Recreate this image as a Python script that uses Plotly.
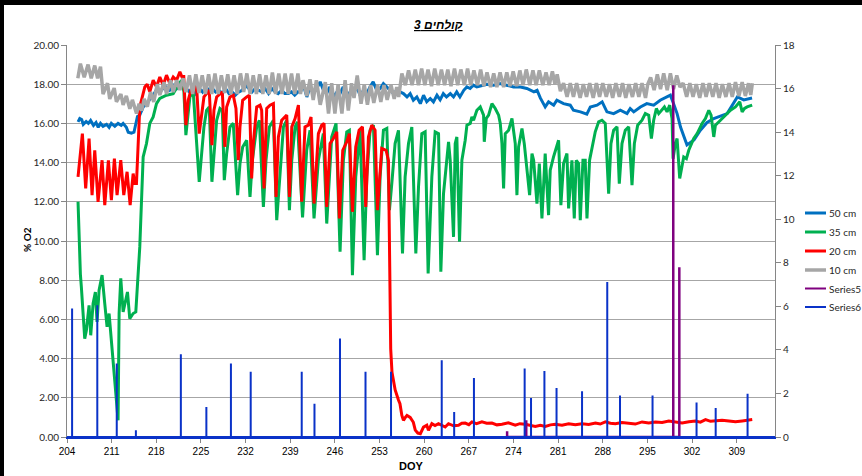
import plotly.graph_objects as go

# ---------------- data ----------------
x_ticks = [204, 211, 218, 225, 232, 239, 246, 253, 260, 267, 274, 281, 288, 295, 302, 309]

d50 = [205.73, 206.0, 206.3, 206.55, 207.0, 207.35, 207.7, 208.15, 208.55, 208.9, 209.25, 209.65, 210.2, 210.6,
       210.95, 211.5, 212.0, 212.5, 212.8, 213.3, 213.6, 214.1, 214.5, 214.8, 215.05, 215.4, 215.95, 216.45,
       216.95, 217.5, 218.0, 218.55, 219.05, 219.6, 220.1, 220.65, 221.2, 221.7, 222.2, 222.7, 223.2, 223.7,
       224.2, 224.75, 225.25, 225.75, 226.3, 226.8, 227.3, 227.8, 228.35, 228.85, 229.4, 229.9, 230.4, 230.9,
       231.45, 231.95, 232.5, 233.0, 233.5, 234.0, 234.55, 235.05, 235.6, 236.1, 236.6, 237.1, 237.65, 238.15,
       238.7, 239.2, 239.7, 240.2, 240.6, 241.05, 241.6, 242.1, 242.6, 243.15, 243.7, 244.2, 244.7, 245.2,
       245.75, 246.3, 246.8, 247.3, 247.85, 248.4, 248.9, 249.4, 249.95, 250.5, 251.0, 251.5, 252.0, 252.55,
       253.1, 253.6, 254.1, 254.65, 255.2, 255.7, 256.2, 256.75, 257.3, 257.8, 258.3, 258.85, 259.4, 259.9,
       260.4, 260.95, 261.45, 262.0, 262.5, 263.0, 263.5, 264.1, 264.6, 265.1, 265.6, 266.2, 266.7, 267.2,
       267.7, 268.25, 268.8, 269.8, 270.9, 271.9, 272.9, 274.0, 275.1, 276.1, 277.2, 277.7, 278.2, 278.97,
       279.5, 280.3, 280.8, 281.85, 282.9, 283.4, 284.5, 285.5, 286.05, 287.1, 287.9, 288.65, 289.7, 290.75,
       291.8, 292.3, 292.85, 293.9, 294.9, 295.98, 297.0, 298.1, 298.6, 299.1, 299.65, 300.2, 301.2, 302.3,
       303.3, 304.35, 305.4, 307.5, 309.1, 310.1, 311.4]
o2_50 = [16.08, 16.25, 16.2, 15.95, 16.1, 16.0, 16.15, 15.9, 16.05, 15.8, 16.0, 15.85, 15.95, 15.8,
         16.0, 15.85, 16.0, 15.9, 16.0, 15.8, 15.55, 15.5, 15.55, 16.08, 16.35, 16.42, 16.84, 17.0,
         17.2, 17.44, 17.7, 17.6, 17.78, 17.86, 17.7, 17.95, 17.78, 18.03, 17.78, 17.78, 17.6, 17.86,
         17.52, 17.78, 17.6, 17.86, 17.7, 17.78, 17.6, 17.7, 17.52, 17.78, 17.52, 17.6, 17.44, 17.6,
         17.69, 17.95, 17.78, 17.6, 17.78, 17.69, 17.61, 17.78, 17.52, 17.78, 17.61, 17.52, 17.69, 17.52,
         17.52, 17.61, 17.44, 17.61, 17.6, 17.95, 17.35, 17.86, 17.52, 17.78, 18.12, 17.69, 17.52, 17.86,
         17.35, 17.6, 17.52, 17.86, 17.35, 17.61, 17.52, 17.86, 17.44, 17.69, 17.52, 17.86, 18.12, 17.69,
         17.78, 18.03, 17.86, 17.69, 17.52, 17.69, 17.6, 17.52, 17.35, 17.52, 17.18, 17.35, 17.01, 17.44,
         17.1, 17.27, 17.1, 17.44, 17.2, 17.52, 17.35, 17.52, 17.35, 17.61, 17.35, 17.69, 17.86, 17.78,
         17.95, 17.86, 17.9, 18.0, 17.95, 18.03, 17.95, 17.86, 17.86, 17.78, 17.61, 17.69, 17.3, 16.84,
         17.1, 16.93, 17.18, 17.01, 16.93, 16.67, 16.59, 16.47, 16.84, 16.93, 17.1, 16.59, 16.5, 16.67,
         16.5, 16.76, 16.59, 16.84, 17.01, 16.93, 17.18, 17.35, 17.44, 17.0, 16.5, 15.8, 14.9, 15.15,
         15.65, 16.05, 16.25, 16.5, 17.35, 17.2, 17.3]

d35 = [205.73, 205.9, 206.1, 206.25, 206.78, 207.04, 207.46, 207.72, 208.09, 208.45, 208.71, 209.03, 209.5,
       209.92, 210.28, 210.6, 210.97, 211.49, 212.01, 212.17, 212.43, 212.8, 213.16, 213.48, 213.84, 214.37,
       214.79, 215.15, 215.41, 215.94, 216.46, 216.98, 217.51, 218.03, 218.55, 219.6, 220.65, 221.43, 221.96,
       222.33, 222.64, 223.27, 223.79, 224.73, 225.1, 225.47, 225.88, 226.3, 226.72, 227.04, 227.46, 227.98,
       228.35, 228.66, 229.03, 229.55, 230.07, 230.75, 231.12, 231.54, 232.17, 232.69, 233.06, 233.74, 234.16,
       234.79, 235.2, 235.73, 236.36, 236.88, 237.4, 237.93, 238.45, 238.87, 239.24, 239.76, 240.13, 240.93,
       241.58, 242.1, 242.73, 243.41, 244.19, 244.72, 245.5, 246.18, 246.81, 247.33, 247.86, 248.27, 248.75,
       249.27, 249.95, 250.58, 251.0, 251.52, 252.04, 252.67, 253.09, 253.61, 254.14, 254.55, 254.92, 255.44,
       255.97, 256.6, 257.01, 257.54, 258.06, 258.69, 259.11, 259.63, 260.15, 260.62, 261.2, 261.72, 262.25,
       262.61, 263.03, 263.82, 264.08, 264.6, 264.86, 265.12, 265.54, 265.91, 266.43, 266.7, 267.22, 267.48,
       267.74, 268.26, 268.79, 269.31, 269.42, 269.73, 270.1, 270.62, 271.14, 271.67, 271.93, 272.19, 272.45,
       272.71, 273.24, 273.76, 274.28, 274.54, 274.8, 275.33, 275.69, 276.53, 276.9, 277.16, 277.68, 278.05,
       278.46, 278.97, 279.5, 279.76, 280.28, 281.07, 281.43, 281.85, 282.38, 282.64, 283.16, 283.53, 283.84,
       284.21, 284.47, 284.89, 285.25, 285.52, 285.93, 286.56, 286.82, 287.35, 287.87, 288.39, 288.66, 288.92,
       289.28, 289.7, 290.23, 290.59, 291.01, 291.53, 292.06, 292.58, 292.95, 293.47, 294.15, 294.67, 295.2,
       295.62, 295.98, 296.4, 296.77, 297.29, 297.66, 298.08, 298.49, 298.86, 299.02, 299.38, 299.65, 300.06,
       300.43, 300.69, 301.11, 301.48, 302.26, 302.79, 303.57, 304.09, 304.62, 304.98, 305.4, 305.66, 306.45,
       307.23, 308.02, 308.8, 309.48, 309.85, 310.22, 310.63, 311.42]
o2_35 = [12.0, 9.7, 8.3, 7.66, 5.02, 5.45, 6.72, 5.19, 6.81, 7.4, 5.87, 7.49, 8.26,
         6.81, 5.62, 6.3, 4.77, 2.55, 0.85, 6.3, 8.09, 6.38, 6.98, 7.4, 6.04, 6.3,
         6.38, 8.51, 9.7, 14.29, 14.97, 16.0, 16.33, 17.01, 17.27, 17.44, 17.52, 17.95, 18.2,
         17.61, 15.4, 17.35, 17.61, 13.02, 14.46, 15.82, 16.67, 16.84, 13.02, 14.63, 16.16, 16.76,
         16.67, 13.1, 14.46, 15.82, 16.0, 12.34, 13.95, 14.8, 15.14, 12.25, 14.12, 15.82, 16.16,
         11.74, 14.12, 15.82, 16.16, 11.06, 13.61, 15.82, 16.16, 11.57, 14.12, 15.82, 16.08, 11.2,
         14.63, 15.65, 11.15, 14.12, 15.48, 10.89, 15.31, 16.0, 9.45, 14.12, 15.57, 15.65, 8.26,
         13.27, 15.65, 9.02, 13.27, 15.65, 15.91, 9.28, 13.27, 15.65, 15.74, 11.57, 12.93, 14.97,
         15.65, 9.36, 13.27, 14.97, 15.82, 9.36, 12.76, 15.48, 15.57, 8.34, 13.27, 15.57, 15.48,
         8.43, 12.42, 15.06, 14.12, 10.21, 14.97, 15.31, 9.96, 14.12, 15.14, 15.91, 16.0, 16.33,
         16.16, 16.67, 16.84, 16.42, 15.06, 16.25, 16.42, 17.01, 16.76, 16.42, 16.0, 14.97, 12.68,
         15.48, 15.65, 16.25, 14.97, 12.34, 14.8, 15.74, 14.97, 12.34, 14.46, 14.12, 11.91, 13.95,
         11.15, 14.46, 11.32, 13.61, 14.29, 15.14, 11.83, 13.95, 14.46, 11.66, 14.12, 11.15, 14.12,
         13.95, 11.06, 14.12, 14.12, 11.15, 14.12, 15.14, 15.57, 16.08, 16.16, 16.0, 13.78, 12.42,
         14.97, 15.65, 15.82, 12.93, 14.97, 15.65, 15.82, 12.85, 14.97, 15.91, 16.16, 16.5, 16.42,
         15.23, 16.16, 16.76, 16.5, 16.67, 16.84, 16.59, 16.93, 16.25, 14.2, 14.97, 15.23, 13.19,
         13.95, 14.29, 14.2, 14.63, 15.23, 15.48, 16.0, 16.25, 16.67, 16.42, 15.31, 15.91, 16.16,
         16.42, 16.67, 16.84, 17.1, 16.59, 16.76, 16.84, 16.93]

d20 = [205.73, 206.41, 206.93, 207.46, 207.93, 208.35, 208.87, 209.5, 209.92, 210.49, 210.96, 211.43, 211.85,
       212.43, 212.9, 213.42, 213.9, 214.37, 214.63, 214.89, 215.41, 216.2, 216.57, 216.98, 217.51, 218.03,
       218.55, 219.08, 219.6, 220.13, 220.65, 221.17, 221.7, 222.12, 222.3, 222.64, 223.0, 223.42, 223.79,
       224.31, 224.73, 225.1, 225.47, 225.88, 226.3, 226.72, 227.04, 227.46, 227.98, 228.35, 228.76, 229.03,
       229.55, 230.07, 230.49, 230.86, 231.12, 231.54, 232.17, 232.59, 232.95, 233.21, 233.74, 234.26, 234.52,
       234.89, 235.31, 235.83, 236.36, 236.77, 237.14, 237.66, 238.45, 238.87, 239.24, 239.76, 240.28, 240.8,
       241.31, 241.84, 242.26, 242.73, 243.41, 243.93, 244.3, 244.72, 245.24, 245.76, 246.29, 246.7, 247.23,
       247.86, 248.27, 248.75, 249.27, 249.79, 250.32, 250.84, 251.26, 251.78, 252.3, 252.67, 253.35, 254.03,
       254.4, 254.6, 254.75, 254.95, 255.45, 255.95, 256.2, 256.5, 256.75, 257.05, 257.3, 257.8, 258.3,
       258.6, 259.0, 259.4, 259.89, 260.41, 260.67, 261.2, 261.7, 262.24, 262.8, 263.29, 263.81, 264.6,
       265.38, 265.9, 266.43, 267.0, 267.48, 268.2, 269.05, 269.8, 270.62, 271.4, 272.19, 273.2, 274.28,
       275.0, 275.85, 276.6, 277.42, 278.2, 278.99, 279.8, 280.56, 281.6, 282.65, 283.7, 284.74, 285.8,
       286.84, 287.6, 288.41, 289.2, 289.98, 291.0, 292.07, 293.1, 294.16, 295.2, 296.26, 297.3, 298.35,
       299.4, 300.44, 301.5, 302.54, 303.3, 304.11, 304.9, 305.68, 306.7, 307.77, 308.8, 309.86, 310.6,
       311.43]
o2_20 = [13.27, 15.48, 12.68, 15.23, 12.34, 14.63, 12.0, 14.12, 11.83, 14.12, 12.08, 14.2, 12.34,
         14.12, 12.34, 13.53, 11.83, 13.44, 12.93, 12.93, 16.84, 17.86, 18.0, 17.61, 18.2, 17.86,
         18.37, 17.95, 18.46, 18.03, 18.37, 18.2, 18.63, 18.29, 18.46, 15.91, 17.18, 17.69, 17.61,
         17.95, 15.48, 16.5, 17.35, 17.52, 17.69, 14.89, 16.67, 17.35, 17.52, 17.61, 14.8, 16.84,
         17.35, 17.44, 16.76, 14.12, 15.82, 17.18, 17.35, 17.44, 13.19, 14.97, 16.84, 16.93, 16.67,
         12.68, 16.76, 16.93, 17.01, 12.25, 15.31, 16.16, 16.42, 12.25, 15.82, 16.25, 16.93, 12.0,
         15.82, 15.91, 16.33, 11.91, 15.48, 15.91, 16.0, 11.74, 14.97, 15.23, 15.57, 11.15, 14.63,
         15.06, 15.48, 11.49, 14.8, 15.65, 15.82, 11.74, 15.31, 15.91, 15.65, 11.57, 14.72, 14.63,
         14.1, 7.0, 4.5, 3.3, 2.4, 1.9, 1.7, 1.1, 0.85, 1.0, 1.1, 1.0, 0.75,
         0.35, 0.2, 0.17, 0.51, 0.6, 0.34, 0.68, 0.58, 0.68, 0.6, 0.51, 0.68, 0.57,
         0.6, 0.7, 0.71, 0.63, 0.77, 0.68, 0.77, 0.7, 0.71, 0.62, 0.65, 0.72, 0.6,
         0.68, 0.65, 0.58, 0.54, 0.6, 0.54, 0.62, 0.65, 0.6, 0.68, 0.62, 0.68, 0.64,
         0.71, 0.66, 0.77, 0.7, 0.68, 0.74, 0.71, 0.66, 0.77, 0.72, 0.77, 0.74, 0.82,
         0.76, 0.71, 0.78, 0.82, 0.76, 0.89, 0.8, 0.82, 0.86, 0.82, 0.78, 0.82, 0.85,
         0.89]

d10 = [205.7, 206.1, 206.7, 207.3, 207.8, 208.35, 208.8, 209.25, 209.65, 210.35, 210.7, 211.4, 211.75,
       212.45, 212.8, 213.3, 213.85, 214.25, 214.9, 215.3, 215.7, 216.1, 216.6, 217.1, 217.6, 218.15,
       218.55, 219.2, 219.6, 220.25, 220.65, 221.2, 221.7, 222.2, 222.65, 223.2, 223.7, 224.2, 224.7,
       225.2, 225.7, 226.2, 226.7, 227.2, 227.7, 228.2, 228.7, 229.2, 229.7, 230.2, 230.7, 231.2, 231.7,
       232.2, 232.7, 233.2, 233.7, 234.2, 234.7, 235.2, 235.7, 236.2, 236.7, 237.2, 237.7, 238.2, 238.7,
       239.2, 239.7, 240.2, 240.6, 241.0, 241.6, 242.1, 242.6, 243.1, 243.7, 244.5, 245.0, 245.5, 246.0,
       246.5, 247.1, 247.6, 248.1, 248.6, 249.0, 249.5, 250.1, 250.6, 251.1, 251.6, 252.1, 252.7, 253.2,
       253.7, 254.2, 254.8, 255.3, 255.7, 256.0, 256.5, 257.05, 257.55, 258.1, 258.6, 259.1, 259.6, 260.1,
       260.6, 261.15, 261.65, 262.2, 262.7, 263.2, 263.7, 264.2, 264.75, 265.25, 265.75, 266.3, 266.8,
       267.3, 267.8, 268.35, 268.85, 269.35, 269.85, 270.4, 270.9, 271.4, 271.9, 272.45, 272.95, 273.45,
       273.95, 274.5, 275.0, 275.5, 276.0, 276.55, 277.05, 277.55, 278.05, 278.6, 279.1, 279.6, 280.1,
       280.5, 280.85, 281.35, 281.85, 282.4, 282.9, 283.4, 283.9, 284.45, 284.95, 285.45, 285.95, 286.5,
       287.0, 287.5, 288.0, 288.55, 289.05, 289.55, 290.05, 290.6, 291.1, 291.6, 292.1, 292.65, 293.15,
       293.65, 294.15, 294.7, 295.05, 295.5, 296.05, 296.55, 297.05, 297.55, 298.1, 298.6, 299.1, 299.6,
       300.1, 300.6, 301.15, 301.65, 302.15, 302.65, 303.2, 303.7, 304.2, 304.7, 305.25, 305.75, 306.25,
       306.75, 307.3, 307.8, 308.3, 308.8, 309.35, 309.85, 310.35, 310.85, 311.2, 311.45]
o2_10 = [18.3, 19.05, 18.35, 19.0, 18.3, 18.95, 18.3, 18.9, 17.5, 18.05, 17.25, 17.8, 17.1,
         17.5, 16.95, 17.4, 16.75, 17.2, 16.5, 17.0, 16.65, 17.25, 16.85, 17.6, 17.1, 18.0,
         17.45, 18.1, 17.5, 18.2, 17.6, 18.2, 17.7, 18.3, 17.6, 18.45, 17.5, 18.5, 17.55,
         18.45, 17.5, 18.5, 17.5, 18.55, 17.5, 18.45, 17.55, 18.5, 17.5, 18.45, 17.5, 18.55, 17.6,
         18.55, 17.5, 18.45, 17.5, 18.5, 17.5, 18.45, 17.5, 18.6, 17.5, 18.55, 17.5, 18.55, 17.5,
         18.55, 17.5, 18.55, 17.5, 18.2, 17.4, 18.25, 17.2, 18.2, 16.95, 18.1, 16.5, 18.05, 16.5,
         18.0, 16.5, 18.2, 16.65, 18.05, 17.3, 18.45, 17.0, 18.0, 16.95, 17.95, 17.05, 17.95, 17.1,
         17.95, 17.2, 17.95, 17.25, 17.85, 17.35, 18.55, 17.95, 18.7, 17.95, 18.75, 17.95, 18.8, 17.95,
         18.75, 17.9, 18.8, 17.95, 18.75, 17.95, 18.75, 17.9, 18.8, 17.95, 18.75, 17.95, 18.8, 17.95,
         18.7, 17.95, 18.75, 17.9, 18.6, 17.85, 18.55, 17.85, 18.6, 17.85, 18.6, 17.9, 18.65,
         17.9, 18.7, 17.95, 18.75, 17.95, 18.7, 17.95, 18.7, 17.95, 18.6, 17.95, 18.65, 18.0,
         18.5, 17.65, 18.05, 17.35, 18.05, 17.35, 18.05, 17.3, 18.0, 17.35, 18.05, 17.3, 18.05,
         17.35, 18.05, 17.35, 18.0, 17.3, 18.05, 17.35, 18.05, 17.3, 18.0, 17.35, 18.05, 17.35,
         18.05, 17.3, 18.0, 18.35, 17.7, 18.5, 17.75, 18.55, 17.7, 18.55, 17.75, 18.45, 17.85,
         18.05, 17.35, 18.05, 17.35, 18.0, 17.3, 18.05, 17.35, 18.05, 17.35, 18.05, 17.3, 18.0,
         17.35, 18.05, 17.35, 18.1, 17.4, 18.1, 17.4, 18.05, 17.45, 18.05, 17.55]

# Series5 / Series6 (right axis) : day and height
s5_day = [273.0, 276.0, 299.05, 300.0]
s5_val = [0.26, 0.77, 16.15, 7.8]
s6_day = [204.8, 208.75, 211.8, 214.8, 221.85, 225.85, 229.7, 232.8, 240.8, 242.8, 246.8, 250.8, 254.8,
          262.75, 264.7, 267.8, 275.75, 276.75, 278.85, 280.75, 284.75, 288.7, 290.7, 295.8, 302.7,
          305.7, 310.7]
s6_val = [5.9, 6.05, 3.37, 0.31, 3.8, 1.38, 3.37, 3.0, 3.0, 1.53, 4.52, 3.0, 3.0,
          3.52, 1.15, 2.71, 3.14, 1.79, 3.03, 2.25, 2.1, 7.12, 1.91, 1.91, 1.58,
          1.33, 1.99]

x_min, x_max = 204, 315


def spikes(days, vals, start, end):
    xs, ys = [start], [0]
    for d, v in zip(days, vals):
        xs += [d, d, d]
        ys += [0, v, 0]
    xs.append(end)
    ys.append(0)
    return xs, ys


# ---------------- figure ----------------
W, H = 862, 476
L, R, T, B = 67, 87, 45, 39
PW, PH = W - L - R, H - T - B


def px(x):
    return (x - L) / PW


def py(y):
    return (H - B - y) / PH


C50, C35, C20, C10 = "#0070C0", "#00B050", "#FF0000", "#A6A6A6"
C5, C6 = "#7F007F", "#0A32C8"

fig = go.Figure()
fig.add_trace(go.Scatter(x=d50, y=o2_50, mode="lines", name="50 cm", line=dict(color=C50, width=3)))
fig.add_trace(go.Scatter(x=d35, y=o2_35, mode="lines", name="35 cm", line=dict(color=C35, width=3)))
fig.add_trace(go.Scatter(x=d20, y=o2_20, mode="lines", name="20 cm", line=dict(color=C20, width=3)))
fig.add_trace(go.Scatter(x=d10, y=o2_10, mode="lines", name="10 cm", line=dict(color=C10, width=3.5)))
x5, y5 = spikes(s5_day, s5_val, s5_day[0] - 0.2, s5_day[-1] + 0.2)
fig.add_trace(go.Scatter(x=x5, y=y5, mode="lines", name="Series5", yaxis="y2", line=dict(color=C5, width=2.5)))
x6, y6 = spikes(s6_day, s6_val, x_min, x_max)
fig.add_trace(go.Scatter(x=x6, y=y6, mode="lines", name="Series6", yaxis="y2", line=dict(color=C6, width=2)))

tickfont = dict(family="Lato, 'Liberation Sans', sans-serif", size=10, color="#262626")
fig.update_layout(
    width=W, height=H, margin=dict(l=L, r=R, t=T, b=B),
    paper_bgcolor="white", plot_bgcolor="white", showlegend=False,
    xaxis=dict(range=[x_min, x_max], tickvals=x_ticks, ticks="outside", ticklen=4, tickcolor="#868686",
               showgrid=False, zeroline=False, showline=True, linecolor=C6, linewidth=2,
               tickfont=dict(family="'Liberation Sans', Arial, sans-serif", size=10, color="#000000")),
    yaxis=dict(range=[0, 20], dtick=2, tickformat=".2f", showgrid=True, gridcolor="#A6A6A6", gridwidth=1,
               zeroline=False, showline=True, linecolor="#868686", ticks="outside", ticklen=5,
               tickcolor="#868686", tickfont=tickfont),
    yaxis2=dict(range=[0, 18], dtick=2, overlaying="y", side="right", showgrid=False, zeroline=False,
                showline=True, linecolor="#868686", ticks="outside", ticklen=5, tickcolor="#868686",
                tickfont=tickfont),
)

# title, axis titles
fig.add_annotation(x=px(438), y=py(25), xref="paper", yref="paper", showarrow=False,
                   xanchor="center", yanchor="middle",
                   text="<span style='text-decoration:underline'><b><i>\u202bקולחים 3\u202c</i></b></span>",
                   font=dict(family="'Liberation Sans', Arial, sans-serif", size=12, color="#000000"))
fig.add_annotation(x=px(27), y=py(240), xref="paper", yref="paper", showarrow=False, textangle=-90,
                   xanchor="center", yanchor="middle",
                   text="<b>% O2</b>", font=dict(family="Lato, sans-serif", size=10, color="#000000"))
fig.add_annotation(x=px(411), y=py(466), xref="paper", yref="paper", showarrow=False,
                   xanchor="center", yanchor="middle",
                   text="<b>DOY</b>", font=dict(family="'Liberation Sans', Arial, sans-serif", size=11, color="#000000"))

# manual legend
leg_names = ["50 cm", "35 cm", "20 cm", "10 cm", "Series5", "Series6"]
leg_cols = [C50, C35, C20, C10, C5, C6]
leg_w = [3, 3, 3, 3.5, 2, 2]
leg_y = [213, 232, 251, 270, 288.5, 307]
for nm, c, w, yy in zip(leg_names, leg_cols, leg_w, leg_y):
    fig.add_shape(type="line", xref="paper", yref="paper", x0=px(805), x1=px(826), y0=py(yy), y1=py(yy),
                  line=dict(color=c, width=w))
    fig.add_annotation(x=px(827), y=py(yy), xref="paper", yref="paper", showarrow=False,
                       xanchor="left", yanchor="middle",
                       text=nm, font=dict(family="Lato, sans-serif", size=10, color="#262626"))

# outer frame (left and top black border)
fig.add_shape(type="rect", xref="paper", yref="paper", x0=px(0), x1=px(4), y0=py(H), y1=py(0),
              line=dict(width=0), fillcolor="black", layer="above")
fig.add_shape(type="rect", xref="paper", yref="paper", x0=px(0), x1=px(W), y0=py(5), y1=py(0),
              line=dict(width=0), fillcolor="black", layer="above")

fig.write_html("out.html", config={"displayModeBar": False},
               post_script="document.body.style.margin='0';document.body.style.padding='0';"
                           "document.body.style.overflow='hidden';")
